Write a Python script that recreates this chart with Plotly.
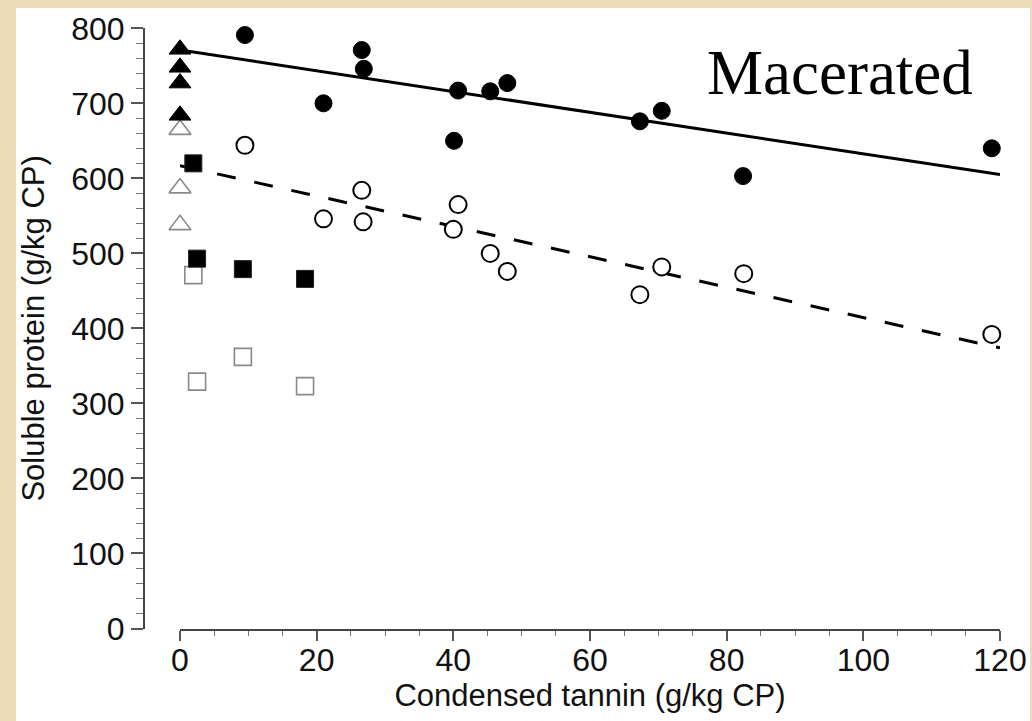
import plotly.graph_objects as go

# ---- data ----
# Macerated, with tannin (filled circles) and matching control (open circles)
ct_circ = [9.5, 26.6, 26.9, 21.0, 40.7, 45.4, 47.9, 40.1, 67.3, 70.5, 82.4, 118.8]
sp_filled_circ = [791, 771, 746, 700, 717, 716, 727, 650, 676, 690, 603, 640]
ct_open_circ = [9.5, 26.6, 21.0, 26.8, 40.7, 40.0, 45.4, 47.9, 70.5, 67.3, 82.5, 118.8]
sp_open_circ = [644, 584, 546, 542, 565, 532, 500, 476, 482, 445, 473, 392]

# Tannin-free forages (triangles)
ct_tri_f = [0, 0, 0, 0]
sp_tri_f = [772, 748, 727, 684]
ct_tri_o = [0, 0, 0]
sp_tri_o = [665, 587, 538]

# Squares
ct_sq = [1.95, 2.5, 9.2, 18.3]
sp_sq_f = [620, 493, 479, 466]
sp_sq_o = [471, 329, 362, 323]

# Regression lines (end points)
fit_x = [0, 120]
fit_solid = [771, 605]
fit_dashed = [617, 374]

x_ticks = [0, 20, 40, 60, 80, 100, 120]
y_ticks = [0, 100, 200, 300, 400, 500, 600, 700, 800]

W, H = 1032, 721
FONT = "Liberation Sans, Arial, Helvetica, sans-serif"

fig = go.Figure()

fig.add_trace(go.Scatter(x=fit_x, y=fit_solid, mode="lines",
                         line=dict(color="black", width=3), showlegend=False))
fig.add_trace(go.Scatter(x=fit_x, y=fit_dashed, mode="lines",
                         line=dict(color="black", width=3, dash="19px,19px"),
                         showlegend=False))

marker_traces = [
    (ct_tri_o, sp_tri_o, dict(symbol="triangle-up", size=19, color="white",
                              line=dict(color="#8a8a8a", width=1.6))),
    (ct_tri_f, sp_tri_f, dict(symbol="triangle-up", size=19, color="black",
                              line=dict(color="black", width=1))),
    (ct_sq, sp_sq_o, dict(symbol="square", size=17, color="white",
                          line=dict(color="#8a8a8a", width=1.6))),
    (ct_sq, sp_sq_f, dict(symbol="square", size=17, color="black",
                          line=dict(color="#222", width=1))),
    (ct_open_circ, sp_open_circ, dict(symbol="circle", size=17, color="white",
                                      line=dict(color="black", width=2))),
    (ct_circ, sp_filled_circ, dict(symbol="circle", size=17, color="black",
                                   line=dict(color="black", width=1))),
]
for xs, ys, mk in marker_traces:
    fig.add_trace(go.Scatter(x=xs, y=ys, mode="markers", marker=mk,
                             cliponaxis=False, showlegend=False))

x0_px, x1_px = 180, 1000
y0_px, y1_px = 628.5, 28.3
yaxis_px = 144

fig.update_layout(
    width=W, height=H,
    margin=dict(l=0, r=0, t=0, b=0),
    paper_bgcolor="#ECDBB6",
    plot_bgcolor="rgba(0,0,0,0)",
    font=dict(family=FONT, color="#111", size=31),
    showlegend=False,
    shapes=[dict(type="rect", xref="paper", yref="paper", layer="below",
                 x0=16 / W, x1=1030 / W, y0=-0.01, y1=1 - 8 / H,
                 fillcolor="white", line=dict(width=0))],
    xaxis=dict(
        domain=[x0_px / W, x1_px / W], range=[0, 120],
        tickvals=x_ticks, ticktext=[str(v) for v in x_ticks],
        showline=True, linecolor="#444", linewidth=2,
        ticks="outside", ticklen=10, tickwidth=1.5, tickcolor="#555",
        minor=dict(dtick=5, ticks="outside", ticklen=5, tickwidth=1.2, tickcolor="#777"),
        showgrid=False, zeroline=False, automargin=False,
        ticklabelstandoff=-8,
        tickfont=dict(size=32, family=FONT, color="#111"),
        title=dict(text="Condensed tannin (g/kg CP)", standoff=6,
                   font=dict(size=31, family=FONT, color="#111")),
    ),
    yaxis=dict(
        domain=[1 - y0_px / H, 1 - y1_px / H], range=[0, 800],
        anchor="free", position=yaxis_px / W,
        tickvals=y_ticks, ticktext=[str(v) for v in y_ticks],
        showline=True, linecolor="#444", linewidth=2,
        ticks="outside", ticklen=12, tickwidth=1.5, tickcolor="#555",
        minor=dict(dtick=20, ticks="outside", ticklen=7, tickwidth=1.2, tickcolor="#777"),
        showgrid=False, zeroline=False, automargin=False,
        tickfont=dict(size=32, family=FONT, color="#111"),
        title=dict(text="Soluble protein (g/kg CP)", standoff=16,
                   font=dict(size=31, family=FONT, color="#111")),
    ),
    annotations=[dict(text="Macerated", xref="paper", yref="paper",
                      x=840 / W, y=1 - 73 / H, xanchor="center", yanchor="middle",
                      showarrow=False,
                      font=dict(family="Liberation Serif, Times New Roman, serif",
                                size=63, color="black"))],
)

fig.write_html(
    "out.html",
    config={"displayModeBar": False},
    post_script="document.body.style.margin='0';document.body.style.padding='0';"
                "document.body.style.overflow='hidden';",
)
